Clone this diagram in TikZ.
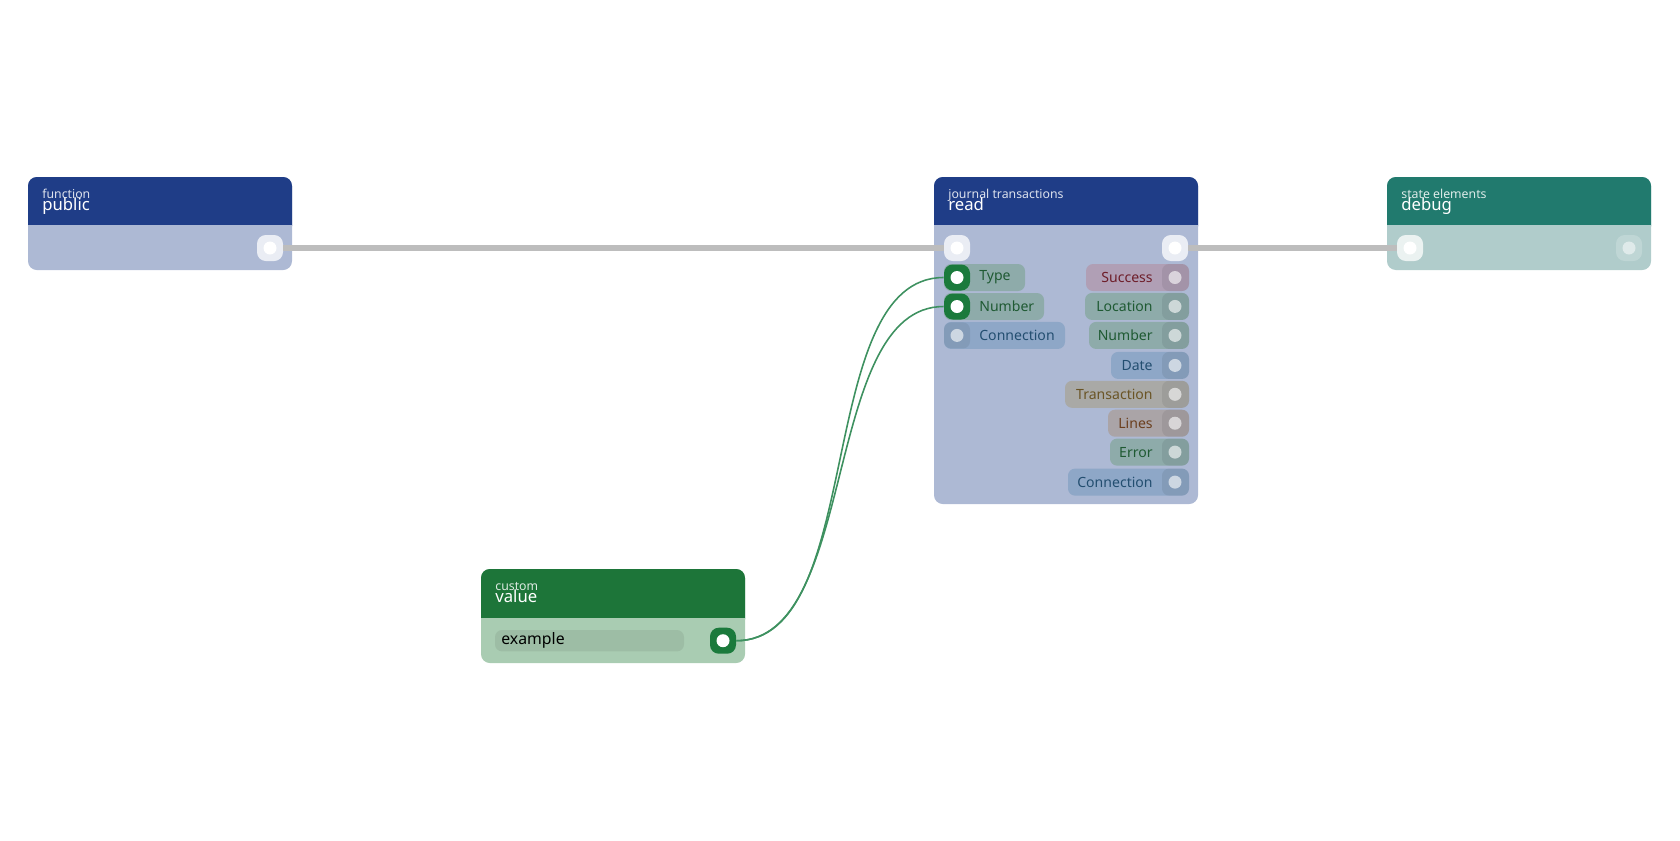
\documentclass[tikz,border=0pt]{standalone}
\usepackage{fontspec}
\setmainfont{Noto Sans}

\definecolor{hdrblue}{HTML}{1F3D87}
\definecolor{bodyblue}{HTML}{ADB9D4}
\definecolor{hdrteal}{HTML}{217A6E}
\definecolor{bodyteal}{HTML}{B0CCCB}
\definecolor{hdrgreen}{HTML}{1D7539}
\definecolor{bodygreen}{HTML}{A9CCB2}
\definecolor{portgreen}{HTML}{1B7A3C}
\definecolor{wire}{HTML}{3E9160}
\definecolor{link}{HTML}{BDBDBD}
\definecolor{pillgreen}{HTML}{8EABAA}
\definecolor{txtgreen}{HTML}{1F5A33}
\definecolor{pillblue}{HTML}{8EA7C7}
\definecolor{txtblue}{HTML}{234E70}
\definecolor{pillred}{HTML}{B09FB5}
\definecolor{txtred}{HTML}{6E1E2A}
\definecolor{pillgold}{HTML}{A9A9A6}
\definecolor{txtgold}{HTML}{6A5425}
\definecolor{pillbrown}{HTML}{AAA4A7}
\definecolor{txtbrown}{HTML}{6B3F1E}

\tikzset{
  port/.style={minimum size=26*0.02cm, inner sep=0pt, rounded corners=5pt,
    fill=white, fill opacity=0.75},
  dot/.style={circle, fill=white, minimum size=13*0.02cm, inner sep=0pt},
  onport/.style={minimum size=26*0.02cm, inner sep=0pt, rounded corners=5pt, fill=portgreen},
  lbl/.style={font=\fontsize{8pt}{9pt}\selectfont, inner sep=0pt}
}

% Block: x1 y1 x2 y2 yh header body sub title
\newcommand{\flowblock}[9]{
  \fill[#7, rounded corners=5pt] (#1,#2) rectangle (#3,#4);
  \fill[#6, rounded corners=5pt] (#1,#2) rectangle (#3,#5+10);
  \fill[#7] (#1,#5) rectangle (#3,#5+12);
  \node[anchor=base west, text=white!85!#6, font=\fontsize{7pt}{8pt}\selectfont, inner sep=0pt]
    at (#1+14,#2+21) {#8};
  \node[anchor=base west, text=white, font=\fontsize{9.5pt}{10pt}\selectfont, inner sep=0pt]
    at (#1+14,#2+33) {#9};
}

% Pin: y, Rand x, Farbe, Textfarbe, Text
\newcommand{\pinleft}[5]{
  \fill[#3, rounded corners=4pt] (944,#1-13.5) rectangle (#2,#1+13.5);
  \node[lbl, anchor=west, text=#4] at (979,#1) {#5};
}
\newcommand{\pinright}[5]{
  \fill[#3, rounded corners=4pt] (#2,#1-13.5) rectangle (1189,#1+13.5);
  \fill[black, opacity=0.07, rounded corners=4pt] (1162,#1-13.5) rectangle (1189,#1+13.5);
  \node[circle, fill=white, fill opacity=0.6, minimum size=13*0.02cm, inner sep=0pt] at (1175,#1) {};
  \node[lbl, anchor=east, text=#4] at (1153,#1) {#5};
}

\begin{document}
\begin{tikzpicture}[x=0.02cm, y=-0.02cm]
\useasboundingbox (0,0) rectangle (1680,840);

% Bloecke
\flowblock{28}{177}{292}{270}{225}{hdrblue}{bodyblue}{function}{public}
\flowblock{934}{177}{1198}{504}{225}{hdrblue}{bodyblue}{journal transactions}{read}
\flowblock{1387}{177}{1651}{270}{225}{hdrteal}{bodyteal}{state elements}{debug}
\flowblock{481}{569}{745}{663}{618}{hdrgreen}{bodygreen}{custom}{value}

% Ports
\node[port] (pubout) at (270,248) {};
\node[dot] at (pubout) {};
\node[port] (readin) at (957,248) {};
\node[dot] at (readin) {};
\node[port] (readout) at (1175,248) {};
\node[dot] at (readout) {};
\node[port] (dbgin) at (1410,248) {};
\node[dot] at (dbgin) {};
\node[port, fill opacity=0.2] (dbgout) at (1629,248) {};
\node[dot, fill opacity=0.5] at (dbgout) {};

% Linke Eingaenge
\pinleft{277.5}{1025}{pillgreen}{txtgreen}{Type}
\pinleft{306.5}{1044}{pillgreen}{txtgreen}{Number}
\pinleft{335.4}{1065}{pillblue}{txtblue}{Connection}
\node[onport] (type) at (957,277.5) {};
\node[dot] at (type) {};
\node[onport] (number) at (957,306.5) {};
\node[dot] at (number) {};
\node[minimum size=26*0.02cm, inner sep=0pt, rounded corners=4pt, fill=black, fill opacity=0.07] (conn) at (957,335.4) {};
\node[circle, fill=white, fill opacity=0.6, minimum size=13*0.02cm, inner sep=0pt] at (conn) {};

% Rechte Ausgaenge
\pinright{277.5}{1086}{pillred}{txtred}{Success}
\pinright{306.4}{1085}{pillgreen}{txtgreen}{Location}
\pinright{335.4}{1089}{pillgreen}{txtgreen}{Number}
\pinright{365.4}{1111}{pillblue}{txtblue}{Date}
\pinright{394.3}{1065}{pillgold}{txtgold}{Transaction}
\pinright{423.2}{1108}{pillbrown}{txtbrown}{Lines}
\pinright{452.1}{1110}{pillgreen}{txtgreen}{Error}
\pinright{482.1}{1068}{pillblue}{txtblue}{Connection}

% Wert
\fill[black, opacity=0.07, rounded corners=4pt] (495,630) rectangle (684,651.4);
\node[lbl, anchor=west, text=black, font=\fontsize{9pt}{10pt}\selectfont] at (501,640.7) {example};
\node[onport] (valout) at (723,640.7) {};
\node[dot] at (valout) {};

% Verbindungen
\draw[link, line width=0.108cm] (pubout.east) -- (readin.west);
\draw[link, line width=0.108cm] (readout.east) -- (dbgin.west);
\draw[wire, line width=0.9pt] (valout.east) to[out=0, in=180, looseness=0.8] (type.west);
\draw[wire, line width=0.9pt] (valout.east) to[out=0, in=180, looseness=0.8] (number.west);
\end{tikzpicture}
\end{document}
